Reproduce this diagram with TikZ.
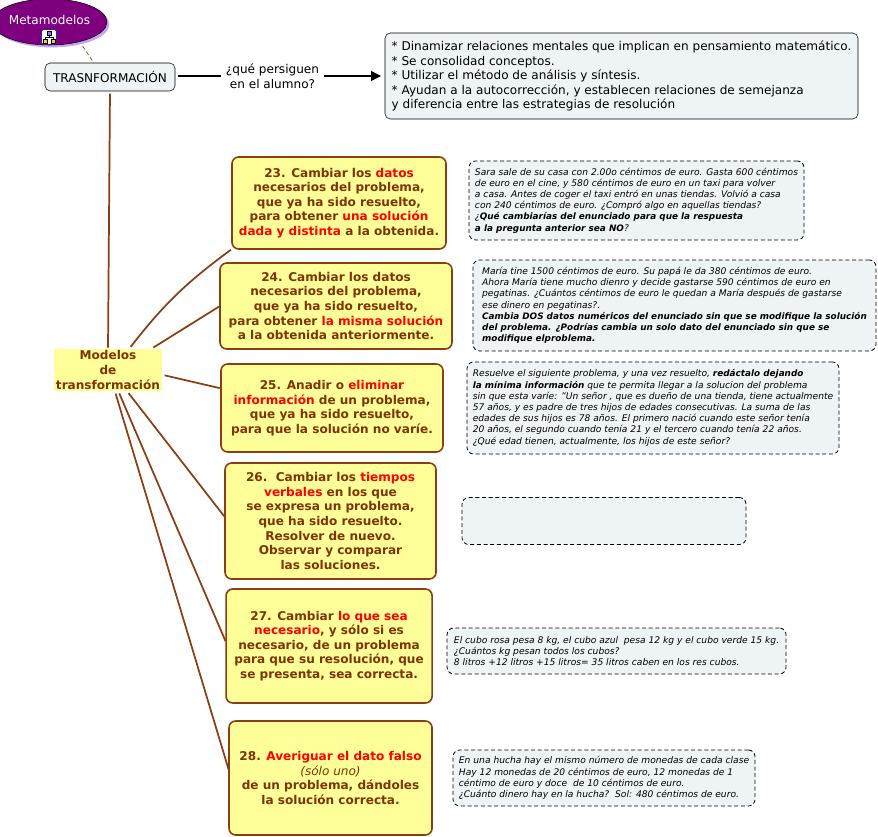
\documentclass[tikz,border=0pt]{standalone}
\usepackage{xcolor}
\usepackage{fontspec}
\setmainfont{DejaVu Sans}
\usepackage{tikz}
\usetikzlibrary{positioning,shapes.geometric,arrows.meta,shadows}
\definecolor{linkbrown}{HTML}{8B3E14}
\definecolor{textbrown}{HTML}{7F3300}
\definecolor{paleyellow}{HTML}{FFFF99}
\definecolor{palegrey}{HTML}{EEF4F6}
\definecolor{plum}{HTML}{7F007F}
\definecolor{plumshadow}{HTML}{C9A3EE}
\tikzset{
  rootnode/.style={draw=black, ellipse, fill=plum, text=white, inner sep=0pt, outer sep=0pt, font=\fontsize{9.05}{11}\selectfont, drop shadow={shadow xshift=1.8pt, shadow yshift=-1.8pt, fill=plumshadow, opacity=1}},
  greybox/.style={draw=black, fill=palegrey, rounded corners=4pt, outer sep=0pt, inner sep=0pt, font=\fontsize{9.05}{10.9}\selectfont},
  conceptbox/.style={draw=linkbrown, line width=1.2pt, fill=paleyellow, rounded corners=5pt, align=center, outer sep=0pt, inner sep=0pt, text=textbrown, font=\fontsize{9.05}{10.95}\selectfont\bfseries},
  notebox/.style={draw=black, line width=.6pt, dash pattern=on 3pt off 2pt, fill=palegrey, rounded corners=5pt, align=left, outer sep=0pt, inner sep=0pt, font=\fontsize{6.85}{8.4}\selectfont\itshape},
  linkline/.style={draw=linkbrown, line width=1.3pt, shorten <=2pt, shorten >=1pt},
  arrow/.style={-{Triangle[length=7.5pt,width=7.5pt]}, line width=.8pt}
}
\newcommand{\rojo}[1]{\textcolor{red}{#1}}
\newcommand{\negrita}[1]{{\fontsize{6.65}{8.4}\selectfont\bfseries #1}}

\begin{document}
\begin{tikzpicture}[x=.75pt,y=-.75pt]
  \useasboundingbox (0,0) rectangle (878,837);

  \node[rootnode, minimum width=72.75pt, minimum height=34.5pt] (meta) at (49.5,22) {\raisebox{2.5pt}{Metamodelos}};
  \node[draw=blue!60!black, fill=white, rounded corners=1pt, minimum size=11pt, inner sep=0pt] (icon) at (49,37) {};
  \begin{scope}[shift={(icon.center)}, line width=.4pt]
    \draw[fill=blue!50] (-2,-6) rectangle (2,-2);
    \draw (0,-2) -- (0,0) (-4,0) -- (4,0) (-4,0) -- (-4,2) (4,0) -- (4,2);
    \draw[fill=yellow!70!orange] (-6,2) rectangle (-2,6);
    \draw[fill=yellow!70!orange] (2,2) rectangle (6,6);
  \end{scope}

  \node[greybox, minimum width=97.5pt, minimum height=21pt] (trans) at (110,77) {TRASNFORMACIÓN};
  \node[font=\fontsize{9.05}{10.9}\selectfont, align=center, minimum width=77.25pt, inner sep=0pt, outer sep=0pt, right=34.5pt of trans, yshift=.75pt] (question) {¿qué persiguen\\en el alumno?};
  \node[greybox, align=left, minimum width=354.75pt, minimum height=64.5pt, right=45.75pt of question] (goal) {* Dinamizar relaciones mentales que implican en pensamiento matemático.\\{}* Se consolidad conceptos.\\{}* Utilizar el método de análisis y síntesis.\\{}* Ayudan a la autocorrección, y establecen relaciones de semejanza\\y diferencia entre las estrategias de resolución};

  \node[conceptbox, draw=none, rounded corners=0pt, minimum width=81pt, minimum height=31.5pt, below=193.5pt of trans, xshift=-1.5pt] (modelos) {Modelos\\de\\transformación};

  \node[conceptbox, minimum width=160.5pt, minimum height=69pt] (box23) at (339,203) {23. Cambiar los \rojo{datos}\\necesarios del problema,\\que ya ha sido resuelto,\\para obtener \rojo{una solución}\\\rojo{dada y distinta} a la obtenida.};
  \node[conceptbox, minimum width=174pt, minimum height=64.5pt, below=10.5pt of box23, xshift=-2.25pt] (box24) {24. Cambiar los datos\\necesarios del problema,\\que ya ha sido resuelto,\\para obtener \rojo{la misma solución}\\a la obtenida anteriormente.};
  \node[conceptbox, minimum width=166.5pt, minimum height=66pt, below=11.25pt of box24, xshift=-3pt] (box25) {25. Anadir o \rojo{eliminar}\\\rojo{información} de un problema,\\que ya ha sido resuelto,\\para que la solución no varíe.};
  \node[conceptbox, minimum width=158.25pt, minimum height=87pt, below=8.25pt of box25, xshift=-1.1pt] (box26) {26.\ \ Cambiar los \rojo{tiempos}\\\rojo{verbales} en los que\\se expresa un problema,\\que ha sido resuelto.\\Resolver de nuevo.\\Observar y comparar\\las soluciones.};
  \node[conceptbox, minimum width=154.5pt, minimum height=85.5pt, below=7.5pt of box26, xshift=-1.1pt] (box27) {27. Cambiar \rojo{lo que sea}\\\rojo{necesario}, y sólo si es\\necesario, de un problema\\para que su resolución, que\\se presenta, sea correcta.};
  \node[conceptbox, minimum width=152.25pt, minimum height=85.5pt, below=13.5pt of box27, xshift=1.1pt] (box28) {28. \rojo{Averiguar el dato falso}\\{\normalfont\itshape (sólo uno)}\\de un problema, dándoles\\la solución correcta.};

  \node[notebox, minimum width=251.25pt, minimum height=59.25pt, right=17.25pt of box23, yshift=1.9pt] (note23) {Sara sale de su casa con 2.00o céntimos de euro. Gasta 600 céntimos\\de euro en el cine, y 580 céntimos de euro en un taxi para volver\\a casa. Antes de coger el taxi entró en unas tiendas. Volvió a casa\\con 240 céntimos de euro. ¿Compró algo en aquellas tiendas?\\¿\negrita{Qué cambiarías del enunciado para que la respuesta}\\\negrita{a la pregunta anterior sea NO}?};
  \node[notebox, minimum width=302.25pt, minimum height=68.25pt, right=15.75pt of box24, yshift=.4pt] (note24) {María tine 1500 céntimos de euro. Su papá le da 380 céntimos de euro.\\Ahora María tiene mucho dienro y decide gastarse 590 céntimos de euro en\\pegatinas. ¿Cuántos céntimos de euro le quedan a María después de gastarse\\ese dinero en pegatinas?.\\\negrita{Cambia DOS datos numéricos del enunciado sin que se modifique la solución}\\\negrita{del problema. ¿Podrías cambia un solo dato del enunciado sin que se}\\\negrita{modifique elproblema.}};
  \node[notebox, minimum width=279pt, minimum height=69pt, right=18pt of box25] (note25) {Resuelve el siguiente problema, y una vez resuelto, \negrita{redáctalo dejando}\\\negrita{la mínima información} que te permita llegar a la solucion del problema\\sin que esta varíe: "Un señor , que es dueño de una tienda, tiene actualmente\\57 años, y es padre de tres hijos de edades consecutivas. La suma de las\\edades de sus hijos es 78 años. El primero nació cuando este señor tenía\\20 años, el segundo cuando tenía 21 y el tercero cuando tenía 22 años.\\¿Qué edad tienen, actualmente, los hijos de este señor?};
  \node[notebox, minimum width=213pt, minimum height=35.25pt, right=19.5pt of box26] (note26) {};
  \node[notebox, minimum width=254.25pt, minimum height=34.5pt, right=11.25pt of box27, yshift=-3.75pt] (note27) {El cubo rosa pesa 8 kg, el cubo azul\ \ pesa 12 kg y el cubo verde 15 kg.\\¿Cuántos kg pesan todos los cubos?\\8 litros +12 litros +15 litros= 35 litros caben en los res cubos.};
  \node[notebox, minimum width=226.5pt, minimum height=42pt, right=15.75pt of box28] (note28) {En una hucha hay el mismo número de monedas de cada clase\\Hay 12 monedas de 20 céntimos de euro, 12 monedas de 1\\céntimo de euro y doce\ \ de 10 céntimos de euro.\\¿Cuánto dinero hay en la hucha?\ \ Sol: 480 céntimos de euro.};

  \draw[linkbrown, densely dashed, line width=.5pt, shorten <=4pt] (meta.-33) -- (trans.139);
  \draw[line width=.8pt, shorten <=2.25pt] (question.west -| trans.east) -- (question.west);
  \draw[arrow, shorten >=3pt] (question.east) -- (question.east -| goal.west);

  \draw[linkline] (trans.south) -- (modelos.north);
  \draw[linkline] (modelos.45) to[bend left=8] (box23.south west);
  \draw[linkline] (modelos.26.6) -- (box24.west);
  \draw[linkline] (modelos.-5) -- (box25.170);
  \draw[linkline] (modelos.-48) -- (box26.178);
  \draw[linkline] (modelos.-64) -- (box27.178);
  \draw[linkline] (modelos.-72) -- (box28.176.6);
\end{tikzpicture}
\end{document}
